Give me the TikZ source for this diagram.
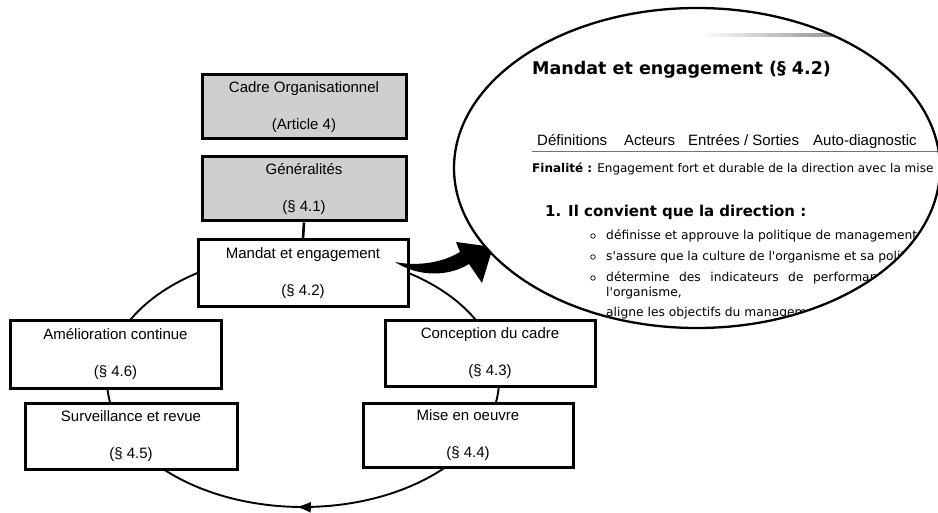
\documentclass[tikz,border=0pt]{standalone}
\usepackage{fontspec}
\setmainfont{Liberation Sans}
\newfontfamily\verd{DejaVu Sans}
\usetikzlibrary{arrows.meta,decorations.markings}
\begin{document}
\begin{tikzpicture}[x=1pt,y=-1pt,
  box/.style={draw, line width=3pt, fill=white, inner sep=0pt, align=center,
    font=\fontsize{15}{17}\selectfont},
  graybox/.style={box, fill=black!19},
  link/.style={line width=2.6pt},
  tab/.style={anchor=base west, inner sep=0pt, font=\fontsize{15}{18}\selectfont},
  vtext/.style={anchor=base west, inner sep=0pt, font=\fontsize{12.3}{14}\selectfont\verd},
  vhead/.style={anchor=base west, inner sep=0pt, font=\fontsize{15}{18}\selectfont\verd\bfseries},
  bulletmark/.style={circle, draw, line width=0.7pt, inner sep=0pt, minimum size=4.5pt}]
\useasboundingbox (0,0) rectangle (938,513);

% cycle ellipse
\draw[line width=1.9pt, postaction={decorate},
  decoration={markings, mark=at position 0.743 with {\arrowreversed{Latex[length=15pt,width=11pt]}}}]
  (303,380) ellipse [x radius=196pt, y radius=127pt];

% boxes
\node[graybox, minimum width=204pt, minimum height=64pt] (cadre) at (304,107)
  {Cadre Organisationnel\\[20pt](Article 4)};
\node[graybox, minimum width=204pt, minimum height=64pt] (gen) at (304,189)
  {Généralités\\[20pt](§ 4.1)};
\node[box, minimum width=210pt, minimum height=67pt] (mandat) at (303,273.5)
  {Mandat et engagement\\[20pt](§ 4.2)};
\node[box, minimum width=211pt, minimum height=67pt] (amel) at (115.5,354.5)
  {Amélioration continue\\[20pt](§ 4.6)};
\node[box, minimum width=212pt, minimum height=66pt] (surv) at (131,436)
  {Surveillance et revue\\[20pt](§ 4.5)};
\node[box, minimum width=210pt, minimum height=65pt] (conc) at (490,353.5)
  {Conception du cadre\\[20pt](§ 4.3)};
\node[box, minimum width=210pt, minimum height=64pt] (mise) at (468,435)
  {Mise en oeuvre\\[20pt](§ 4.4)};

\draw[link] (gen.south) -- (mandat.north);

% curved pointer arrow
\fill (395,262) .. controls (415,266) and (440,264) .. (460,252) -- (456,242)
  -- (493,247) -- (482,283) -- (469,264) .. controls (450,276) and (420,278) .. (395,262) -- cycle;

% callout (magnified view)
\fill[white] (697,168) ellipse [x radius=243pt, y radius=160pt];
\begin{scope}
  \clip (697,168) ellipse [x radius=243pt, y radius=160pt];
  \shade[left color=white, right color=black!45] (700,34) rectangle (842,36.5);
  \node[anchor=base west, inner sep=0pt, font=\fontsize{17.5}{20}\selectfont\verd\bfseries] (ttl) at (532,75)
    {Mandat et engagement (§ 4.2)};
  \node[tab] (t1) at (537,146) {Définitions};
  \node[tab] (t2) at (624,146) {Acteurs};
  \node[tab] (t3) at (688,146) {Entrées / Sorties};
  \node[tab] (t4) at (813,146) {Auto-diagnostic};
  \draw[black!55, line width=0.9pt] (532,151) -- (945,151);
  \node[vtext, font=\fontsize{12}{14}\selectfont\verd] (fin) at (532,172.5)
    {\textbf{Finalité :} Engagement fort et durable de la direction avec la mise};
  \node[vhead] (h1) at (545,216.5) {1.};
  \node[vhead] (h2) at (568,216.5) {Il convient que la direction :};
  \node[bulletmark] (b1) at (593,236) {};
  \node[bulletmark] (b2) at (593,257) {};
  \node[bulletmark] (b3) at (593,278) {};
  \node[vtext] (l1) at (606,240) {définisse et approuve la politique de management d};
  \node[vtext] (l2) at (606,260.5) {s'assure que la culture de l'organisme et sa politi};
  \node[vtext] (l3) at (606,281.5)
    {détermine\hspace{9.5pt}des\hspace{9.5pt}indicateurs\hspace{9.5pt}de\hspace{9.5pt}performance};
  \node[vtext] (l3b) at (606,296.5) {l'organisme,};
  \node[vtext] (l4) at (606,317) {aligne les objectifs du manageme};
\end{scope}
\draw[line width=2.3pt] (697,168) ellipse [x radius=243pt, y radius=160pt];
\end{tikzpicture}
\end{document}
